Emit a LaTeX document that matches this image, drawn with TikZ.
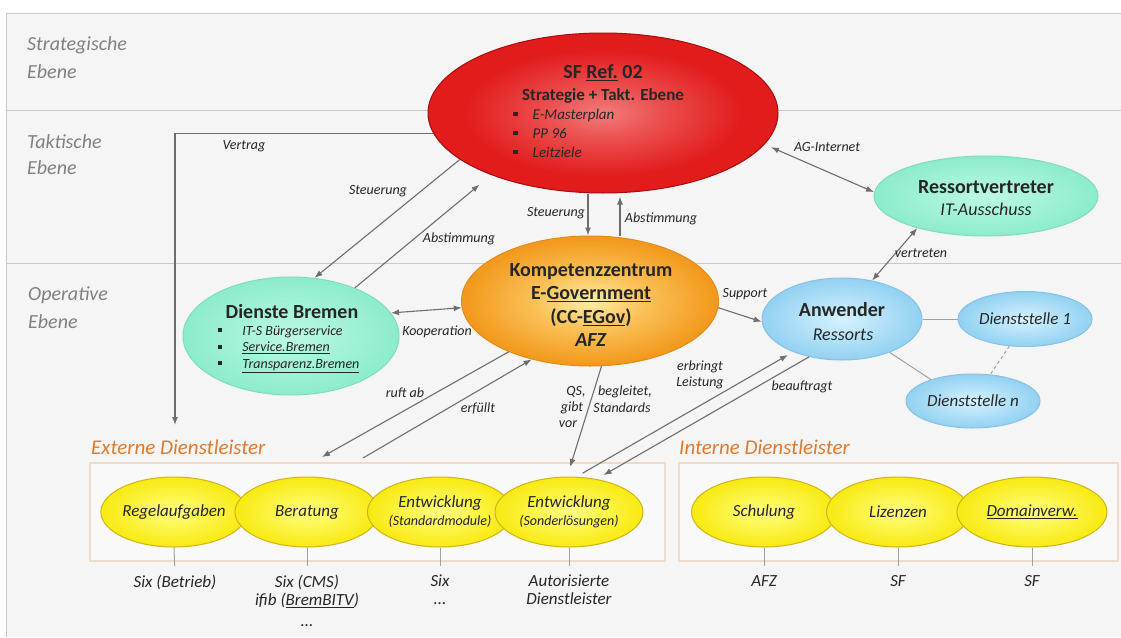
\documentclass[tikz,border=0pt]{standalone}
\usepackage{fontspec}
\setmainfont{Carlito}
\usetikzlibrary{arrows.meta,shapes.geometric,calc}

\definecolor{cPanel}{HTML}{F5F5F5}
\definecolor{cFrame}{HTML}{C9C9C9}
\definecolor{cLvl}{HTML}{808080}
\definecolor{cArr}{HTML}{6E6E6E}
\definecolor{cTxt}{HTML}{262626}
\definecolor{cBoxLine}{HTML}{EDDCCB}
\definecolor{cBoxFill}{HTML}{F9F9F9}
\definecolor{cTitle}{HTML}{E07A30}
\definecolor{cSub}{HTML}{A0A0A0}

\definecolor{redA}{HTML}{F17C7C}
\definecolor{redB}{HTML}{EC5050}
\definecolor{redC}{HTML}{E21B1B}
\definecolor{redD}{HTML}{A80C0C}
\definecolor{orA}{HTML}{FFEDA8}
\definecolor{orB}{HTML}{FBC45C}
\definecolor{orC}{HTML}{F39A1E}
\definecolor{orD}{HTML}{E08A1A}
\definecolor{mnA}{HTML}{BCF9E4}
\definecolor{mnB}{HTML}{8CECCB}
\definecolor{mnD}{HTML}{80DDBC}
\definecolor{blA}{HTML}{D6F2FF}
\definecolor{blB}{HTML}{92D1F2}
\definecolor{blD}{HTML}{86C2E6}
\definecolor{yeA}{HTML}{FFFF80}
\definecolor{yeB}{HTML}{F8EA10}
\definecolor{yeD}{HTML}{D3B21A}

\pgfdeclareradialshading{redsh}{\pgfpointorigin}{color(0bp)=(redA); color(8bp)=(redB); color(20bp)=(redC); color(50bp)=(redC)}
\pgfdeclareradialshading{orsh}{\pgfpointorigin}{color(0bp)=(orA); color(10bp)=(orB); color(24bp)=(orC); color(50bp)=(orC)}
\pgfdeclareradialshading{mnsh}{\pgfpointorigin}{color(0bp)=(mnA); color(25bp)=(mnB); color(50bp)=(mnB)}
\pgfdeclareradialshading{blsh}{\pgfpointorigin}{color(0bp)=(blA); color(25bp)=(blB); color(50bp)=(blB)}
\pgfdeclareradialshading{yesh}{\pgfpointorigin}{color(0bp)=(yeA); color(25bp)=(yeB); color(50bp)=(yeB)}

\newcommand{\sqb}{\rule[0.2em]{0.3em}{0.3em}}

\begin{document}
\begin{tikzpicture}[x=1pt,y=-1pt,
  ell/.style={ellipse, inner sep=0pt, line width=1pt, text=cTxt},
  redell/.style={ell, shading=redsh, draw=redD},
  orell/.style={ell, shading=orsh, draw=orD},
  mnell/.style={ell, shading=mnsh, draw=mnD},
  blell/.style={ell, shading=blsh, draw=blD},
  yel/.style={ell, shading=yesh, draw=yeD, minimum height=70pt, align=center,
     font=\fontsize{17}{19}\selectfont\itshape},
  tb/.style={font=\fontsize{20}{24}\selectfont\bfseries, text=cTxt, inner sep=0pt},
  ti/.style={font=\fontsize{18}{22}\selectfont\itshape, text=cTxt, inner sep=0pt},
  lab/.style={font=\fontsize{14}{16}\selectfont\itshape, text=cTxt, inner sep=0pt},
  lvltxt/.style={font=\fontsize{20}{24}\selectfont\itshape, text=cLvl, inner sep=0pt, anchor=west},
  sub/.style={font=\fontsize{17}{18}\selectfont\itshape, text=cTxt, inner sep=0pt, align=center, anchor=north},
  ttl/.style={font=\fontsize{21}{25}\selectfont\itshape, text=cTitle, inner sep=0pt, anchor=west},
  dbox/.style={draw=cBoxLine, fill=cBoxFill, line width=1.5pt, inner sep=0pt, anchor=north west, minimum height=98pt},
  arr/.style={draw=cArr, line width=1.1pt, -{Latex[length=8pt,width=6pt]}},
  darr/.style={draw=cArr, line width=1.1pt, {Latex[length=8pt,width=6pt]}-{Latex[length=8pt,width=6pt]}},
  sline/.style={draw=cSub, line width=1pt}
]
\useasboundingbox (0,0) rectangle (1121,637);
\fill[white] (0,0) rectangle (1121,637);
\fill[cPanel] (6,13) rectangle (1121,637);
\draw[cFrame, line width=1pt] (1121,13) -- (6,13) -- (6,637);
\draw[cFrame, line width=1pt] (6,110) -- (1121,110);
\draw[cFrame, line width=1pt] (6,263) -- (1121,263);

% level labels
\node[lvltxt] (lv1a) at (27,45) {Strategische};
\node[lvltxt] (lv1b) at (27,72) {Ebene};
\node[lvltxt] (lv2a) at (27,142) {Taktische};
\node[lvltxt] (lv2b) at (27,168) {Ebene};
\node[lvltxt] (lv3a) at (28,295) {Operative};
\node[lvltxt] (lv3b) at (28,322) {Ebene};

% service boxes
\node[dbox, minimum width=575pt] (ext) at (89,462) {};
\node[dbox, minimum width=439pt] (int) at (678,462) {};
\node[ttl] (extt) at (91,447) {Externe Dienstleister};
\node[ttl] (intt) at (679,447) {Interne Dienstleister};

% main ellipses
\node[redell, minimum width=350pt, minimum height=160pt] (red) at (603,113) {};
\node[font=\fontsize{20}{24}\selectfont\bfseries, text=cTxt, inner sep=0pt] (rt1) at (603,73) {SF \underline{Ref.} 02};
\node[font=\fontsize{17}{20}\selectfont\bfseries, text=cTxt, inner sep=0pt] (rt2) at (603,96) {Strategie + Takt. Ebene};
\node[anchor=west, align=left, inner sep=0pt, text=cTxt, font=\fontsize{15}{19}\selectfont\itshape] (rt3) at (513,133)
  {\sqb\hspace{15pt}E-Masterplan\\ \sqb\hspace{15pt}PP 96\\ \sqb\hspace{15pt}Leitziele};

\node[mnell, minimum width=224pt, minimum height=80pt] (ress) at (986,196) {};
\node[tb] (rs1) at (986,187) {Ressortvertreter};
\node[ti] (rs2) at (986,209) {IT-Ausschuss};

\node[orell, minimum width=257pt, minimum height=130pt] (komp) at (590,301) {};
\node[align=center, inner sep=0pt, text=cTxt, font=\fontsize{20}{23.5}\selectfont\bfseries] (kt) at (591,305)
  {Kompetenzzentrum\\E-\underline{Government}\\(CC-\underline{EGov})\\\textit{AFZ}};

\node[mnell, minimum width=216pt, minimum height=118pt] (dien) at (291,336) {};
\node[tb] (dt1) at (292,312) {Dienste Bremen};
\node[anchor=west, align=left, inner sep=0pt, text=cTxt, font=\fontsize{14}{16.5}\selectfont\itshape] (dt2) at (218,349)
  {\sqb\hspace{20pt}IT-S Bürgerservice\\ \sqb\hspace{20pt}\underline{Service.Bremen}\\ \sqb\hspace{20pt}\underline{Transparenz.Bremen}};

\node[blell, minimum width=160pt, minimum height=82pt] (anw) at (842,319) {};
\node[tb] (an1) at (842,310) {Anwender};
\node[ti] (an2) at (843,335) {Ressorts};

\node[blell, minimum width=134pt, minimum height=55pt, font=\fontsize{17}{20}\selectfont\itshape] (d1) at (1025,319) {Dienststelle 1};
\node[blell, minimum width=134pt, minimum height=54pt, font=\fontsize{17}{20}\selectfont\itshape] (dn) at (973,401) {Dienststelle n};

% yellow service ellipses
\node[yel, minimum width=144pt] (regel) at (174,512) {Regelaufgaben};
\node[yel, minimum width=144pt] (ber) at (307,512) {Beratung};
\node[yel, minimum width=140pt] (std) at (440,512) {Entwicklung\\[-1pt]{\fontsize{14}{16}\selectfont(Standardmodule)}};
\node[yel, minimum width=148pt] (son) at (569,512) {Entwicklung\\[-1pt]{\fontsize{14}{16}\selectfont(Sonderlösungen)}};
\node[yel, minimum width=145pt] (sch) at (764,512) {Schulung};
\node[yel, minimum width=143pt] (liz) at (898,512) {Lizenzen};
\node[yel, minimum width=150pt] (dom) at (1032,512) {\underline{Domainverw.}};

% labels below
\node[sub] (lregel) at (175,575) {Six (Betrieb)};
\node[sub] (lber) at (307,575) {Six (CMS)\\ifib (\underline{BremBITV})\\[3pt]...};
\node[sub] (lstd) at (440,575) {Six\\...};
\node[sub] (lson) at (569,575) {Autorisierte\\Dienstleister};
\node[sub] (lsch) at (764,575) {AFZ};
\node[sub] (lliz) at (898,575) {SF};
\node[sub] (ldom) at (1032,575) {SF};
\foreach \e/\l in {regel/lregel, ber/lber, std/lstd, son/lson, sch/lsch, liz/lliz, dom/ldom}
  \draw[sline, shorten >=9pt] (\e.south) -- (\l.north);

% sub-office links
\draw[sline] (anw.0) -- (d1.180);
\draw[sline] (anw.325) -- (dn.153);
\draw[sline, dashed] (d1.240) -- (dn.57);

% connectors
\coordinate (vend) at (175,425);
\draw[arr] (red.187) -| (vend);
\node[lab] (lvert) at (244,146) {Vertrag};

\draw[arr] (red.198) -- (dien.68);
\draw[arr, shorten >=15pt] (dien.37) -- (red.209);
\node[lab] (lst1) at (378,191) {Steuerung};
\node[lab] (lab1) at (459,239) {Abstimmung};

\draw[arr] ([xshift=-15pt]red.south) -- ([xshift=-2pt]komp.north);
\draw[arr, shorten >=3pt] ([xshift=30pt]komp.north) -- ([xshift=17pt]red.south);
\node[lab] (lst2) at (556,213) {Steuerung};
\node[lab] (lab2) at (661,219) {Abstimmung};

\draw[darr] (dien.13) -- (komp.183);
\node[lab] (lkoop) at (437,332) {Kooperation};

\coordinate (rufend) at (322,457);
\coordinate (erfstart) at (363,458);
\draw[arr] (komp.212) -- (rufend);
\draw[arr] (erfstart) -- (komp.225);
\node[lab] (lruf) at (405,393) {ruft ab};
\node[lab] (lerf) at (478,408) {erfüllt};

\draw[arr, shorten >=10pt] (komp.280) -- (son.93);
\node[lab] (lqs1) at (576,392) {QS,};
\node[lab] (lqs2) at (572,408) {gibt};
\node[lab] (lqs3) at (568,424) {vor};
\node[lab] (lqs4) at (625,392) {begleitet,};
\node[lab] (lqs5) at (622,408) {Standards};

\draw[arr, shorten <=7pt, shorten >=6pt] (son.78) -- (anw.214);
\draw[arr, shorten >=8pt] (anw.229) -- (son.50);
\node[lab] (lerb1) at (700,367) {erbringt};
\node[lab] (lerb2) at (700,383) {Leistung};
\node[lab] (lbea) at (802,387) {beauftragt};

\draw[arr] (komp.357) -- (anw.182);
\node[lab] (lsup) at (745,294) {Support};

\draw[darr, shorten <=7pt] (red.349) -- (ress.178);
\node[lab] (lag) at (827,147) {AG-Internet};

\draw[darr] (ress.205) -- (anw.52);
\node[lab] (lvtr) at (921,253) {vertreten};
\end{tikzpicture}
\end{document}
